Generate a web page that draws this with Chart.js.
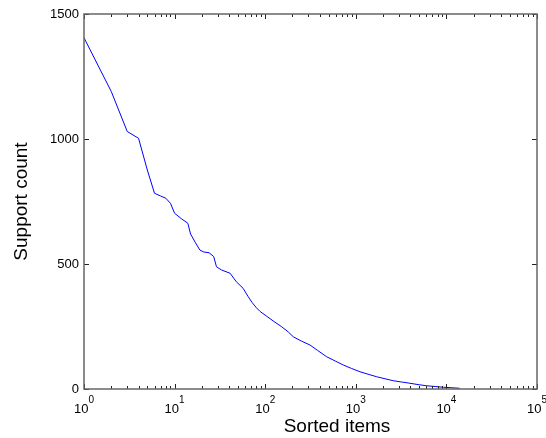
<!DOCTYPE html>
<html lang="en">
<head>
  <meta charset="UTF-8" />
  <title>Support count vs sorted items</title>
  <script src="https://cdn.jsdelivr.net/npm/chart.js"></script>
  <style>
    body { margin: 0; background: #fff; }
    #wrap { width: 546px; height: 438px; }
  </style>
</head>
<body>
  <div id="wrap"><canvas id="chart" width="546" height="438"></canvas></div>
  <script>
    // sorted item rank (x) and its support count (y)
    const items = [1, 2, 3, 4, 5, 6, 7, 8, 9, 10, 12, 14, 15, 17, 19, 21, 24, 27, 29, 33, 41, 48, 57, 65, 72, 80, 88, 104, 125, 152, 180, 204, 250, 312, 380, 477, 600, 728, 900, 1112, 1400, 1700, 2100, 2595, 3200, 3964, 5000, 6030, 7500, 9250, 11500, 14000];
    const support = [1405, 1190, 1030, 1003, 876, 783, 772, 763, 743, 703, 680, 663, 620, 585, 556, 548, 545, 530, 489, 476, 463, 429, 403, 369, 345, 325, 310, 291, 270, 249, 228, 209, 192, 176, 154, 129, 111, 96, 82, 69, 58, 49, 41, 33, 28, 23, 17, 13, 10, 7, 5, 3];
    const yTicks = [0, 500, 1000, 1500];
    const decades = [0, 1, 2, 3, 4, 5];

    const FONT = "'Liberation Sans', Arial, sans-serif";

    const points = items.map((x, i) => ({ x: x, y: support[i] }));

    // frame, inward ticks on all four sides, x labels with exponents, axis titles
    const matlabAxes = {
      id: 'matlabAxes',
      afterDraw(chart) {
        const ctx = chart.ctx;
        const xs = chart.scales.x;
        const ys = chart.scales.y;
        const a = chart.chartArea;
        ctx.save();

        ctx.strokeStyle = '#222';
        ctx.lineWidth = 1;
        ctx.beginPath();
        decades.forEach(e => {
          for (let m = 1; m <= 9; m++) {
            const v = m * Math.pow(10, e);
            if (v > 1e5) break;
            const px = Math.round(xs.getPixelForValue(v)) + 0.5;
            const len = m === 1 ? 5 : 3;
            ctx.moveTo(px, a.bottom); ctx.lineTo(px, a.bottom - len);
            ctx.moveTo(px, a.top); ctx.lineTo(px, a.top + len);
          }
        });
        yTicks.forEach(v => {
          const py = Math.round(ys.getPixelForValue(v)) + 0.5;
          ctx.moveTo(a.left, py); ctx.lineTo(a.left + 5, py);
          ctx.moveTo(a.right, py); ctx.lineTo(a.right - 5, py);
        });
        ctx.stroke();

        ctx.strokeStyle = '#666';
        ctx.lineWidth = 1.5;
        ctx.strokeRect(a.left, a.top, a.right - a.left, a.bottom - a.top);

        // x tick labels 10^n
        ctx.fillStyle = '#000';
        ctx.textBaseline = 'alphabetic';
        ctx.textAlign = 'left';
        decades.forEach(e => {
          const px = xs.getPixelForValue(Math.pow(10, e));
          ctx.font = '13px ' + FONT;
          const w1 = ctx.measureText('10').width;
          ctx.font = '10px ' + FONT;
          const w2 = ctx.measureText(String(e)).width;
          const x0 = px - (w1 + w2) / 2;
          ctx.font = '13px ' + FONT;
          ctx.fillText('10', x0, 413);
          ctx.font = '10px ' + FONT;
          ctx.fillText(String(e), x0 + w1, 403);
        });

        // axis titles
        ctx.font = '19px ' + FONT;
        ctx.textAlign = 'center';
        ctx.fillText('Sorted items', 337, 432);
        ctx.translate(27, (a.top + a.bottom) / 2);
        ctx.rotate(-Math.PI / 2);
        ctx.fillText('Support count', 0, 0);
        ctx.restore();
      }
    };

    new Chart(document.getElementById('chart'), {
      type: 'line',
      data: {
        datasets: [{
          data: points,
          borderColor: '#0000ff',
          borderWidth: 1,
          pointRadius: 0,
          tension: 0,
          fill: false
        }]
      },
      options: {
        responsive: false,
        animation: false,
        layout: { padding: { left: 0, right: 9, top: 14, bottom: 0 } },
        plugins: { legend: { display: false }, tooltip: { enabled: false } },
        scales: {
          x: {
            type: 'logarithmic',
            min: 1,
            max: 100000,
            grid: { display: false, drawTicks: false },
            border: { display: false },
            ticks: { display: false },
            afterFit(scale) { scale.height = 49; }
          },
          y: {
            min: 0,
            max: 1500,
            grid: { display: false, drawTicks: false },
            border: { display: false },
            afterBuildTicks(scale) { scale.ticks = yTicks.map(v => ({ value: v })); },
            ticks: {
              padding: 5,
              color: '#000',
              font: { family: FONT, size: 13 },
              callback: v => String(v)
            },
            afterFit(scale) { scale.width = 84; }
          }
        }
      },
      plugins: [matlabAxes]
    });
  </script>
</body>
</html>
